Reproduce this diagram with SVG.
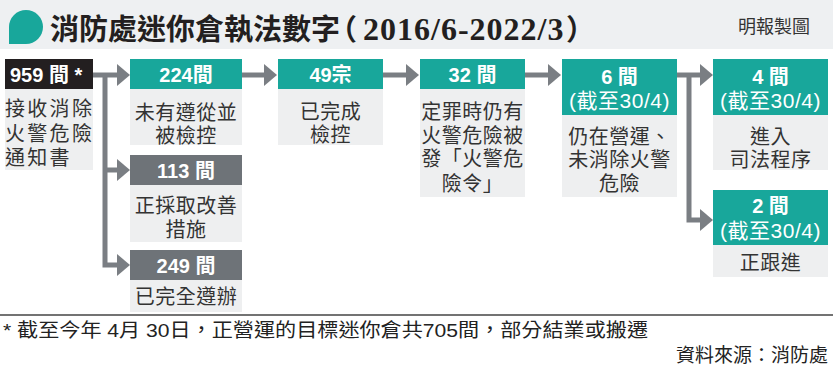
<svg xmlns="http://www.w3.org/2000/svg" width="833" height="367" viewBox="0 0 833 367">
<style>
.hd-teal{fill:#18a79b}
.hd-gray{fill:#6e7378}
.hd-black{fill:#231f20}
.body{fill:#eeeff0}
.ht{font-family:"Liberation Sans","Noto Sans CJK TC",sans-serif;font-weight:bold;font-size:20px;fill:#fff;text-anchor:middle}
.hs{font-family:"Liberation Sans","Noto Sans CJK TC",sans-serif;font-size:21px;fill:#fff;text-anchor:middle;letter-spacing:0.5px}
.bt{font-family:"Noto Sans CJK TC","Liberation Sans",sans-serif;font-size:20px;fill:#333;text-anchor:middle;letter-spacing:0.5px}
.bl{font-family:"Noto Sans CJK TC","Liberation Sans",sans-serif;font-size:20px;fill:#333;letter-spacing:2.3px}
.conn{fill:none;stroke:#7a7e83;stroke-width:5;marker-end:url(#ah)}
.ft{font-family:"Liberation Sans","Noto Sans CJK TC",sans-serif;font-size:19px;fill:#222}
</style>
<defs>
<marker id="ah" markerUnits="userSpaceOnUse" markerWidth="13" markerHeight="22" viewBox="0 0 13 22" refX="0" refY="11" orient="auto">
<path d="M0,0 L13,11 L0,22 Z" fill="#7a7e83"/>
</marker>
</defs>
<rect width="833" height="367" fill="#fff"/>
<g id="title">
<rect x="0" y="0" width="833" height="49" fill="#eef0f2"/>
<path d="M9,44 L9,27 A17,17 0 1 1 26,44 Z" fill="#18a79b"/>
<text y="40" font-family="'Liberation Serif','Noto Sans CJK TC',serif" font-weight="bold" font-size="29" fill="#231f20"><tspan x="50">消防處迷你倉執法數字</tspan><tspan x="328">（</tspan><tspan x="363" font-size="32" letter-spacing="1">2016/6-2022/3</tspan><tspan x="566">）</tspan></text>
<text x="810" y="33" text-anchor="end" font-family="'Noto Sans CJK TC','Liberation Sans',sans-serif" font-size="18" fill="#333">明報製圖</text>
</g>
<g id="connectors">
<path class="conn" d="M93,75 H117"/>
<path class="conn" d="M105,75 V265 H117"/>
<path class="conn" d="M105,170 H117"/>
<path class="conn" d="M242,75 H264"/>
<path class="conn" d="M383,75 H406"/>
<path class="conn" d="M525,75 H548"/>
<path class="conn" d="M677,75 H700"/>
<path class="conn" d="M689,75 V220 H700"/>
</g>
<g id="n959">
<rect class="hd-black" x="5" y="59" width="88" height="30"/>
<text x="10" y="82" class="ht" style="text-anchor:start">959 間 *</text>
<rect class="body" x="5" y="89" width="88" height="81"/>
<text class="bl" x="5" y="116">接收消除</text>
<text class="bl" x="5" y="141">火警危險</text>
<text class="bl" x="5" y="165">通知書</text>
</g>
<g id="n224">
<rect class="hd-teal" x="130" y="59" width="112" height="30"/>
<text class="ht" x="186" y="82">224間</text>
<rect class="body" x="130" y="89" width="112" height="56"/>
<text class="bt" x="186" y="120">未有遵從並</text>
<text class="bt" x="186" y="143">被檢控</text>
</g>
<g id="n49">
<rect class="hd-teal" x="278" y="59" width="105" height="30"/>
<text class="ht" x="330.5" y="82">49宗</text>
<rect class="body" x="278" y="89" width="105" height="56"/>
<text class="bt" x="330.5" y="119">已完成</text>
<text class="bt" x="330.5" y="142">檢控</text>
</g>
<g id="n32">
<rect class="hd-teal" x="420" y="59" width="105" height="30"/>
<text class="ht" x="472.5" y="82">32 間</text>
<rect class="body" x="420" y="89" width="105" height="108"/>
<text class="bt" x="472.5" y="119">定罪時仍有</text>
<text class="bt" x="472.5" y="143">火警危險被</text>
<text class="bt" x="472.5" y="166">發「火警危</text>
<text class="bt" x="472.5" y="191">險令」</text>
</g>
<g id="n6">
<rect class="hd-teal" x="562" y="59" width="115" height="56"/>
<text class="ht" x="619.5" y="84">6 間</text>
<text class="hs" x="619.5" y="108">(截至30/4)</text>
<rect class="body" x="562" y="115" width="115" height="82"/>
<text class="bt" x="619.5" y="144">仍在營運、</text>
<text class="bt" x="619.5" y="167">未消除火警</text>
<text class="bt" x="619.5" y="191">危險</text>
</g>
<g id="n4">
<rect class="hd-teal" x="713" y="59" width="115" height="56"/>
<text class="ht" x="770.5" y="84">4 間</text>
<text class="hs" x="770.5" y="108">(截至30/4)</text>
<rect class="body" x="713" y="115" width="115" height="55"/>
<text class="bt" x="770.5" y="144">進入</text>
<text class="bt" x="770.5" y="167">司法程序</text>
</g>
<g id="n2">
<rect class="hd-teal" x="713" y="190" width="115" height="55"/>
<text class="ht" x="770.5" y="213">2 間</text>
<text class="hs" x="770.5" y="238">(截至30/4)</text>
<rect class="body" x="713" y="245" width="115" height="32"/>
<text class="bt" x="770.5" y="270">正跟進</text>
</g>
<g id="n113">
<rect class="hd-gray" x="130" y="155" width="112" height="30"/>
<text class="ht" x="186" y="178">113 間</text>
<rect class="body" x="130" y="185" width="112" height="57"/>
<text class="bt" x="186" y="213">正採取改善</text>
<text class="bt" x="186" y="237">措施</text>
</g>
<g id="n249">
<rect class="hd-gray" x="130" y="250" width="112" height="30"/>
<text class="ht" x="186" y="273">249 間</text>
<rect class="body" x="130" y="280" width="112" height="32"/>
<text class="bt" x="186" y="304">已完全遵辦</text>
</g>
<g id="footer">
<line x1="0" y1="315" x2="833" y2="315" stroke="#444" stroke-width="1.5"/>
<text class="ft" x="3" y="337" textLength="645" lengthAdjust="spacingAndGlyphs">* 截至今年 4月 30日，正營運的目標迷你倉共705間，部分結業或搬遷</text>
<text class="ft" x="828" y="362" text-anchor="end" font-size="20">資料來源：消防處</text>
</g>
</svg>
